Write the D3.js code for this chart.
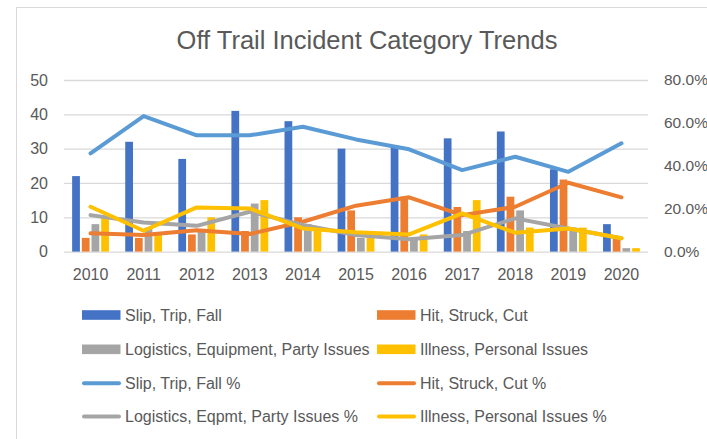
<!DOCTYPE html>
<html>
<head>
<meta charset="utf-8">
<script src="https://cdn.jsdelivr.net/npm/d3@7/dist/d3.min.js"></script>
<style>
  html, body { margin: 0; padding: 0; background: #fff; }
  svg { display: block; }
  text { font-family: "Liberation Sans", Arial, sans-serif; fill: #595959; }
</style>
</head>
<body>
<svg id="chart" width="707" height="439"></svg>
<script>
const years = ["2010","2011","2012","2013","2014","2015","2016","2017","2018","2019","2020"];
const barSeriesNames = ["Slip, Trip, Fall", "Hit, Struck, Cut", "Logistics, Equipment, Party Issues", "Illness, Personal Issues"];
const lineSeriesNames = ["Slip, Trip, Fall %", "Hit, Struck, Cut %", "Logistics, Eqpmt, Party Issues %", "Illness, Personal Issues %"];

const slipTripFall = [22, 32, 27, 41, 38, 30, 31, 33, 35, 24, 8];
const hitStruckCut = [4, 4, 5, 6, 10, 12, 16, 13, 16, 21, 4];
const logistics    = [8, 7, 6, 14, 8, 4, 4, 6, 12, 7, 1];
const illness      = [10, 5, 10, 15, 7, 5, 5, 15, 7, 7, 1];

const slipPct      = [0.458, 0.632, 0.542, 0.542, 0.582, 0.523, 0.477, 0.380, 0.442, 0.372, 0.505];
const hitPct       = [0.085, 0.077, 0.100, 0.082, 0.139, 0.214, 0.253, 0.170, 0.209, 0.321, 0.253];
const logisticsPct = [0.170, 0.136, 0.120, 0.186, 0.124, 0.077, 0.058, 0.077, 0.155, 0.108, 0.062];
const illnessPct   = [0.209, 0.097, 0.206, 0.201, 0.108, 0.090, 0.080, 0.178, 0.088, 0.108, 0.062];

const leftTicks = [0, 10, 20, 30, 40, 50];
const rightTicks = [0, 0.2, 0.4, 0.6, 0.8];

const barColors = ["#4472C4", "#ED7D31", "#A5A5A5", "#FFC000"];
const lineColors = ["#5B9BD5", "#ED7D31", "#A5A5A5", "#FFC000"];

const barData = [slipTripFall, hitStruckCut, logistics, illness];
const lineData = [slipPct, hitPct, logisticsPct, illnessPct];

const svg = d3.select("#chart");

// chart frame
svg.append("rect")
  .attr("x", 16.5).attr("y", 7.5).attr("width", 720).attr("height", 460)
  .attr("fill", "#fff").attr("stroke", "#d9d9d9").attr("stroke-width", 1);

// title
svg.append("text")
  .attr("x", 367).attr("y", 49)
  .attr("text-anchor", "middle")
  .style("font-size", "25.5px")
  .text("Off Trail Incident Category Trends");

const plotLeft = 64, plotRight = 648, plotTop = 80, plotBottom = 251.6;

const x = d3.scaleBand().domain(years).range([plotLeft, plotRight]).paddingInner(0).paddingOuter(0);
const bw = x.bandwidth();
const xs = d3.scaleBand().domain(d3.range(4)).range([bw / 2 - 18.4, bw / 2 + 18.4]).paddingInner(0.2).paddingOuter(0);
const yL = d3.scaleLinear().domain([0, 50]).range([plotBottom, plotTop]);
const yR = d3.scaleLinear().domain([0, 0.8]).range([plotBottom, plotTop]);

// gridlines
svg.append("g")
  .attr("transform", `translate(${plotLeft},0)`)
  .call(d3.axisLeft(yL).tickValues(leftTicks).tickSize(-(plotRight - plotLeft)).tickFormat(""))
  .call(g => g.select(".domain").remove())
  .call(g => g.selectAll("line").attr("stroke", "#d9d9d9").attr("stroke-width", 1.3));

// left axis labels
svg.append("g")
  .attr("transform", `translate(${plotLeft},0)`)
  .call(d3.axisLeft(yL).tickValues(leftTicks).tickSize(0).tickPadding(16))
  .call(g => g.select(".domain").remove())
  .call(g => g.selectAll("text").style("font-size", "16px").attr("fill", "#595959").style("font-family", "Liberation Sans, Arial, sans-serif"));

// right axis labels
svg.append("g")
  .attr("transform", `translate(${plotRight},0)`)
  .call(d3.axisRight(yR).tickValues(rightTicks).tickSize(0).tickPadding(16).tickFormat(d3.format(".1%")))
  .call(g => g.select(".domain").remove())
  .call(g => g.selectAll("text").style("font-size", "15.5px").attr("fill", "#595959").style("font-family", "Liberation Sans, Arial, sans-serif"));

// bottom axis labels
svg.append("g")
  .attr("transform", `translate(0,${plotBottom})`)
  .call(d3.axisBottom(x).tickSize(0).tickPadding(17))
  .call(g => g.select(".domain").remove())
  .call(g => g.selectAll("text").style("font-size", "16px").attr("fill", "#595959").style("font-family", "Liberation Sans, Arial, sans-serif"));

// bars
barData.forEach((series, si) => {
  svg.append("g")
    .selectAll("rect")
    .data(series)
    .join("rect")
    .attr("x", (d, i) => x(years[i]) + xs(si))
    .attr("width", xs.bandwidth())
    .attr("y", d => yL(d))
    .attr("height", d => yL(0) - yL(d))
    .attr("fill", barColors[si]);
});

// lines
const line = d3.line()
  .x((d, i) => x(years[i]) + bw / 2)
  .y(d => yR(d));

lineData.forEach((series, si) => {
  svg.append("path")
    .datum(series)
    .attr("d", line)
    .attr("fill", "none")
    .attr("stroke", lineColors[si])
    .attr("stroke-width", 4)
    .attr("stroke-linejoin", "round")
    .attr("stroke-linecap", "round");
});

// legend
const legendRows = [315, 349.3, 383.3, 416.5];
const legendCols = [82, 377];
const legendItems = [];
barSeriesNames.forEach((n, i) => legendItems.push({ name: n, type: "bar", color: barColors[i] }));
lineSeriesNames.forEach((n, i) => legendItems.push({ name: n, type: "line", color: lineColors[i] }));

const lg = svg.append("g");
legendItems.forEach((item, i) => {
  const cx = legendCols[i % 2];
  const cy = legendRows[Math.floor(i / 2)];
  if (item.type === "bar") {
    lg.append("rect").attr("x", cx).attr("y", cy - 4.8).attr("width", 38.5).attr("height", 9.6).attr("fill", item.color);
  } else {
    lg.append("line").attr("x1", cx + 2).attr("x2", cx + 37).attr("y1", cy).attr("y2", cy)
      .attr("stroke", item.color).attr("stroke-width", 4).attr("stroke-linecap", "round");
  }
  lg.append("text").attr("x", cx + 43).attr("y", cy + 5.8).style("font-size", "16px").text(item.name);
});
</script>
</body>
</html>
